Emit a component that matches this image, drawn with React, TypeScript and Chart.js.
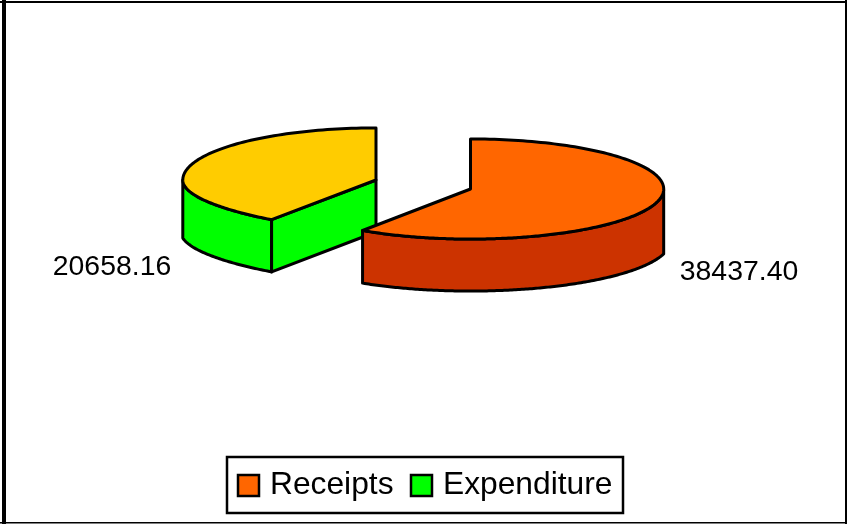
import React, { useEffect, useRef } from "react";
import { Chart, registerables } from "chart.js";

Chart.register(...registerables);

const categories = ["Receipts", "Expenditure"];
const amounts = [38437.4, 20658.16];
const topColors = ["#FF6600", "#FFCC00"];
const wallColors = ["#CC3300", "#00FF00"];
const legendColors = ["#FF6600", "#00FF00"];

const FONT = '"Liberation Sans", Arial, sans-serif';
const WIDTH = 847;
const HEIGHT = 524;

// Per-slice rendering settings for the tilted pie: how far each slice is pulled
// from the centre, its vertical radius factor, how much the near rim sags,
// how wide the base curve runs past the rim, the foreshortening of angles, and
// where the value label sits relative to the slice centre.
const sliceLook = [
  { dx: 47, dy: 5, ryFactor: 0.272, sag: 0, baseWidth: 1.035, warp: 0.4347, labelDx: 268.5, labelDy: 91 },
  { dx: -47.5, dy: -4, ryFactor: 0.283, sag: 9, baseWidth: 1.01, warp: 0.4617, labelDx: -264, labelDy: 95 },
];
const RX_FACTOR = 1.05;
const WALL = 52;
const OUTLINE = 3;

type Pt = { x: number; y: number };

const tiltedPie = {
  id: "tiltedPie",
  beforeDatasetsDraw(chart: any) {
    const ctx: CanvasRenderingContext2D = chart.ctx;
    const meta = chart.getDatasetMeta(0);
    const ds = chart.data.datasets[0];
    ctx.save();
    ctx.lineJoin = "round";
    ctx.lineCap = "round";
    ctx.lineWidth = OUTLINE;
    ctx.strokeStyle = "#000";

    // Rear slice first so the front one overlaps it.
    const order = meta.data.map((_: any, i: number) => i).reverse();
    for (const i of order) {
      const arc = meta.data[i];
      const look = sliceLook[i];
      const rx = arc.outerRadius * RX_FACTOR;
      const ry = arc.outerRadius * look.ryFactor;
      const cx = arc.x + look.dx;
      const cy = arc.y + look.dy;
      const start = arc.startAngle + Math.PI / 2;
      const end = arc.endAngle + Math.PI / 2;

      const sagAt = (X: number, Y: number) => (Y > 0 && X < 0 ? look.sag * X * Y : 0);
      const rim = (t: number): Pt & { X: number; Y: number } => {
        const w = t + look.warp * Math.sin(t);
        const X = Math.sin(w);
        const Y = -Math.cos(w);
        return { x: cx + rx * X, y: cy + ry * Y + sagAt(X, Y), X, Y };
      };
      // Point on the base of the wall directly below a rim point.
      const base = (p: Pt & { X: number }): Pt => {
        const Xb = p.X / look.baseWidth;
        const Yb = Math.sqrt(1 - Xb * Xb);
        return { x: p.x, y: cy + WALL + ry * Yb + sagAt(p.X, Yb) };
      };

      const steps = Math.ceil(((end - start) * 180) / Math.PI);
      const pts = Array.from({ length: steps + 1 }, (_, k) => rim(start + ((end - start) * k) / steps));

      const fillStroke = (poly: Pt[], fill: string) => {
        ctx.beginPath();
        poly.forEach((p, k) => (k ? ctx.lineTo(p.x, p.y) : ctx.moveTo(p.x, p.y)));
        ctx.closePath();
        ctx.fillStyle = fill;
        ctx.fill();
        ctx.stroke();
      };

      // Outer wall along the near part of the rim.
      const near = pts.filter((p) => p.Y >= 0);
      if (near.length > 1) {
        fillStroke([...near, ...near.map(base).reverse()], ds.wallColors[i]);
      }

      // Cut face along a radial edge, when it turns toward the viewer.
      const centre = { x: cx, y: cy };
      const faceAt = (p: Pt & { X: number }) => {
        fillStroke([centre, p, base(p), { x: cx, y: cy + WALL }], ds.wallColors[i]);
      };
      if (Math.sin(start) < -0.01) faceAt(pts[0]);
      if (Math.sin(end) > 0.01) faceAt(pts[pts.length - 1]);

      // Top surface.
      fillStroke([centre, ...pts], ds.backgroundColor[i]);

      // Value label.
      ctx.fillStyle = "#000";
      ctx.font = `28.4px ${FONT}`;
      ctx.textAlign = "center";
      ctx.textBaseline = "alphabetic";
      ctx.fillText(ds.data[i].toFixed(2), cx + look.labelDx, cy + look.labelDy);
    }
    ctx.restore();
    return false;
  },
};

// Frame around the whole chart and the boxed legend beneath the pie.
const frameAndLegend = {
  id: "frameAndLegend",
  afterDraw(chart: any) {
    const ctx: CanvasRenderingContext2D = chart.ctx;
    ctx.save();
    ctx.fillStyle = "#000";
    ctx.fillRect(0, 1, WIDTH, 2);
    ctx.fillRect(2, 0, 4, HEIGHT);
    ctx.fillRect(845, 0, 2, HEIGHT);
    ctx.fillRect(0, 522, WIDTH, 1.5);

    ctx.strokeStyle = "#000";
    ctx.lineWidth = 2.5;
    ctx.strokeRect(227, 457, 396, 56);

    ctx.font = `31.75px ${FONT}`;
    ctx.textAlign = "left";
    ctx.textBaseline = "alphabetic";
    const swatchX = [238, 411];
    const labelX = [270, 443];
    chart.data.labels.forEach((label: string, i: number) => {
      ctx.fillStyle = legendColors[i];
      ctx.fillRect(swatchX[i], 475, 21, 21);
      ctx.strokeRect(swatchX[i], 475, 21, 21);
      ctx.fillStyle = "#000";
      ctx.fillText(label, labelX[i], 493.5);
    });
    ctx.restore();
  },
};

export default function App() {
  const ref = useRef<HTMLCanvasElement>(null);

  useEffect(() => {
    const chart = new Chart(ref.current as HTMLCanvasElement, {
      type: "pie",
      data: {
        labels: categories,
        datasets: [
          {
            data: amounts,
            backgroundColor: topColors,
            wallColors,
            borderWidth: 0,
          } as any,
        ],
      },
      options: {
        responsive: false,
        animation: false,
        layout: { padding: { bottom: 156 } },
        plugins: { legend: { display: false }, tooltip: { enabled: false } },
      },
      plugins: [tiltedPie, frameAndLegend],
    });
    return () => chart.destroy();
  }, []);

  return (
    <div style={{ position: "fixed", left: 0, top: 0, width: WIDTH, height: HEIGHT, background: "#fff" }}>
      <canvas ref={ref} width={WIDTH} height={HEIGHT} style={{ display: "block" }} />
    </div>
  );
}
